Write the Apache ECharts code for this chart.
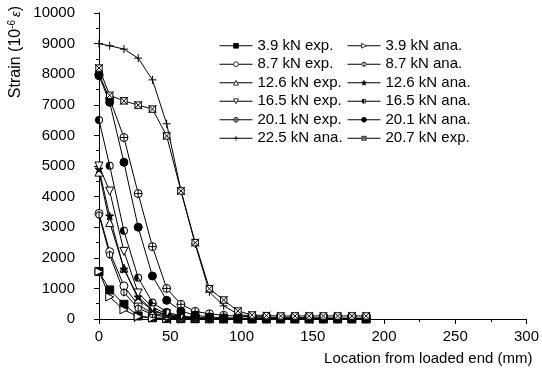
<!DOCTYPE html>
<html>
<head>
<meta charset="utf-8">
<script src="https://cdn.jsdelivr.net/npm/echarts@6/dist/echarts.min.js"></script>
<style>
  html, body { margin: 0; padding: 0; background: #fff; }
  #chart { width: 542px; height: 374px; }
</style>
</head>
<body>
<div id="chart"></div>
<script>
// measurement locations (mm from loaded end)
const locations = [0, 7.5, 17.5, 27.5, 37.5, 47.5, 57.5, 67.5, 77.5, 87.5, 97.5, 107.5, 117.5, 127.5, 137.5, 147.5, 157.5, 167.5, 177.5, 187.5]

// strain values (10^-6)
const exp39 = [1550, 950, 480, 100, 40, 20, 10, 10, 5, 5, 5, 5, 5, 5, 5, 5, 5, 5, 5, 5]
const ana39 = [1550, 720, 300, 80, 30, 10, 5, 5, 5, 5, 5, 5, 5, 5, 5, 5, 5, 5, 5, 5]
const exp87 = [3450, 2200, 1080, 450, 200, 90, 40, 20, 10, 10, 10, 10, 10, 10, 10, 10, 10, 10, 10, 10]
const ana87 = [3400, 2100, 870, 350, 150, 60, 30, 15, 10, 5, 5, 5, 5, 5, 5, 5, 5, 5, 5, 5]
const exp126 = [4800, 3150, 1660, 650, 280, 120, 60, 30, 20, 10, 10, 10, 10, 10, 10, 10, 10, 10, 10, 10]
const ana126 = [4900, 3370, 1630, 720, 300, 130, 60, 30, 15, 10, 10, 10, 10, 10, 10, 10, 10, 10, 10, 10]
const exp165 = [5000, 4180, 2210, 850, 380, 170, 80, 40, 20, 15, 10, 10, 10, 10, 10, 10, 10, 10, 10, 10]
const ana165 = [6500, 5010, 2880, 1350, 540, 230, 100, 50, 25, 15, 10, 10, 10, 10, 10, 10, 10, 10, 10, 10]
const exp201 = [8000, 7200, 5930, 4100, 2365, 1000, 480, 250, 170, 120, 90, 70, 60, 50, 50, 40, 40, 30, 30, 30]
const ana201 = [7950, 7080, 5120, 3000, 1405, 610, 260, 120, 70, 40, 30, 20, 20, 15, 15, 10, 10, 10, 10, 10]
const ana225 = [9000, 8930, 8820, 8525, 7815, 6380, 4200, 2450, 880, 430, 160, 80, 50, 30, 20, 10, 10, 10, 10, 10]
const exp207 = [8200, 7310, 7130, 6990, 6860, 5985, 4185, 2495, 990, 620, 260, 130, 110, 100, 100, 100, 100, 100, 100, 100]

const leftNames = ['3.9 kN exp.', '8.7 kN exp.', '12.6 kN exp.', '16.5 kN exp.', '20.1 kN exp.', '22.5 kN ana.']
const rightNames = ['3.9 kN ana.', '8.7 kN ana.', '12.6 kN ana.', '16.5 kN ana.', '20.1 kN ana.', '20.7 kN exp.']

// marker shapes
const SYM_TRI_RIGHT = 'path://M0,0 L10,5 L0,10 Z'
const SYM_TRI_DOWN = 'path://M0,0 L10,0 L5,10 Z'
const SYM_PHI = 'path://M9,5 A4,4 0 1,1 1,5 A4,4 0 1,1 9,5 Z M5,0 L5,10'
const SYM_STAR = 'path://M5,0 L6.2,3.6 L10,3.6 L6.9,5.9 L8.1,9.5 L5,7.3 L1.9,9.5 L3.1,5.9 L0,3.6 L3.8,3.6 Z'
const SYM_HALF = 'path://M5,0 A5,5 0 0,0 5,10 Z M5,0 A5,5 0 0,1 5,10 L5,8.8 A3.8,3.8 0 0,0 5,1.2 Z'
const SYM_OPLUS = 'path://M10,5 A5,5 0 1,1 0,5 A5,5 0 1,1 10,5 Z M0,5 L10,5 M5,0 L5,10'
const SYM_PLUS = 'path://M0,5 L10,5 M5,0 L5,10'
const SYM_XBOX = 'path://M1,1 L9,1 L9,9 L1,9 Z M0,0 L10,10 M10,0 L0,10'

// border width per series (half-filled symbol is drawn without outline)
const borderOf = { '16.5 kN ana.': 0 }

function mk(name, data, symbol, filled) {
  return {
    name,
    type: 'line',
    xAxisIndex: 0,
    yAxisIndex: 0,
    data: locations.map((x, i) => [x, data[i]]),
    symbol,
    symbolSize: 8,
    symbolKeepAspect: true,
    showAllSymbol: true,
    lineStyle: { color: '#000', width: 1 },
    itemStyle: {
      color: filled ? '#000' : '#fff',
      borderColor: '#000',
      borderWidth: borderOf[name] ?? 1,
    },
    emphasis: { disabled: true },
  }
}

const chart = echarts.init(document.getElementById('chart'), null, { renderer: 'canvas' })

const font = 'Liberation Sans, Arial, sans-serif'
const legendBase = {
  orient: 'vertical',
  top: 32,
  itemWidth: 33,
  itemHeight: 6,
  itemGap: 1,
  selectedMode: false,
  textStyle: { fontFamily: font, fontSize: 15, color: '#000', lineHeight: 17.5 },
}
const legendItems = (names) => names.map((n) => ({
  name: n,
  itemStyle: { borderWidth: borderOf[n] ?? 0.8, borderColor: '#000' },
  lineStyle: { width: 1, color: '#000' },
}))

chart.setOption({
  backgroundColor: '#fff',
  animation: false,
  grid: { left: 99, right: 12, top: 13, bottom: 55 },
  legend: [
    { ...legendBase, left: 214, data: legendItems(leftNames) },
    { ...legendBase, left: 342, data: legendItems(rightNames) },
  ],
  xAxis: [
    {
      type: 'value',
      min: 0,
      max: 300,
      interval: 50,
      name: 'Location from loaded end (mm)',
      nameLocation: 'end',
      nameGap: 6,
      nameTextStyle: {
        fontFamily: font, fontSize: 15, color: '#000',
        align: 'right', verticalAlign: 'top', padding: [32, 0, 0, 0],
      },
      axisLine: { lineStyle: { color: '#000', width: 1 } },
      axisTick: { inside: false, length: 5, lineStyle: { color: '#000' } },
      minorTick: { show: true, splitNumber: 2, length: 3, lineStyle: { color: '#000' } },
      axisLabel: { fontFamily: font, fontSize: 15, color: '#000', margin: 10 },
      splitLine: { show: false },
    },
    {
      type: 'value',
      position: 'top',
      min: 0,
      max: 300,
      interval: 50,
      axisLine: { lineStyle: { color: '#000', width: 1 } },
      axisTick: { inside: true, length: 4, lineStyle: { color: '#000' } },
      axisLabel: { show: false },
      splitLine: { show: false },
    },
  ],
  yAxis: [
    {
      type: 'value',
      min: 0,
      max: 10000,
      interval: 1000,
      axisLine: { show: true, lineStyle: { color: '#000', width: 1 } },
      axisTick: { show: true, inside: false, length: 5, lineStyle: { color: '#000' } },
      minorTick: { show: true, splitNumber: 2, length: 3, lineStyle: { color: '#000' } },
      axisLabel: {
        fontFamily: font, fontSize: 15, color: '#000', margin: 24,
        formatter: (v) => String(v),
      },
      splitLine: { show: false },
    },
    {
      type: 'value',
      position: 'right',
      min: 0,
      max: 10000,
      interval: 1000,
      axisLine: { show: true, lineStyle: { color: '#000', width: 1 } },
      axisTick: { show: true, inside: true, length: 4, lineStyle: { color: '#000' } },
      axisLabel: { show: false },
      splitLine: { show: false },
    },
  ],
  graphic: [
    {
      type: 'text',
      x: 16,
      y: 52,
      rotation: Math.PI / 2,
      style: {
        text: '{a|Strain (10}{s|-6}{e|ε}{a|)}',
        align: 'center',
        verticalAlign: 'middle',
        fill: '#000',
        rich: {
          a: { fontFamily: font, fontSize: 16, lineHeight: 18, fill: '#000' },
          s: { fontFamily: font, fontSize: 10, lineHeight: 18, verticalAlign: 'top', fill: '#000' },
          e: { fontFamily: font, fontSize: 13, fontStyle: 'italic', lineHeight: 18, fill: '#000', padding: [0, 0, 0, 3] },
        },
      },
    },
  ],
  series: [
    mk('3.9 kN exp.', exp39, 'rect', true),
    mk('3.9 kN ana.', ana39, SYM_TRI_RIGHT, false),
    mk('8.7 kN exp.', exp87, 'circle', false),
    mk('8.7 kN ana.', ana87, SYM_PHI, false),
    mk('12.6 kN exp.', exp126, 'triangle', false),
    mk('12.6 kN ana.', ana126, SYM_STAR, true),
    mk('16.5 kN exp.', exp165, SYM_TRI_DOWN, false),
    mk('16.5 kN ana.', ana165, SYM_HALF, true),
    mk('20.1 kN exp.', exp201, SYM_OPLUS, false),
    mk('20.1 kN ana.', ana201, 'circle', true),
    mk('22.5 kN ana.', ana225, SYM_PLUS, false),
    mk('20.7 kN exp.', exp207, SYM_XBOX, false),
  ],
})
</script>
</body>
</html>
